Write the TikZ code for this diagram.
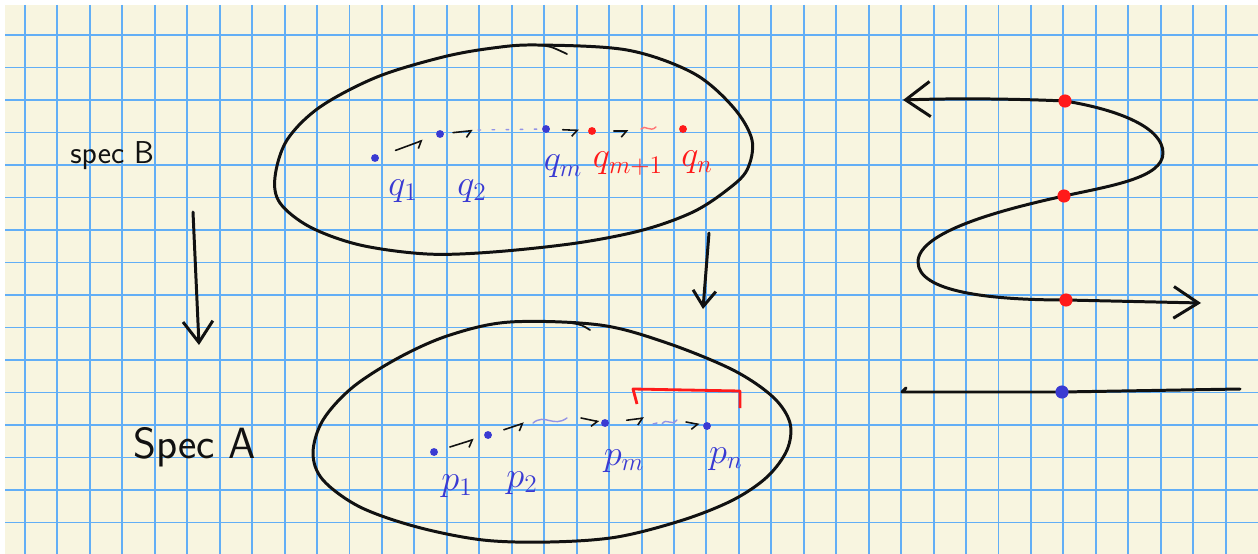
\documentclass[tikz,border=0pt]{standalone}
\definecolor{paperyellow}{HTML}{F8F5E0}
\definecolor{gridblue}{HTML}{62AEF6}
\definecolor{inkblue}{HTML}{3A3AD2}
\definecolor{inkred}{HTML}{FF1A1A}
\definecolor{inkblack}{HTML}{111111}
\usetikzlibrary{arrows.meta}
\tikzset{
    gridline/.style={
        draw=gridblue,
        line width=1.1pt
    },
    sketchline/.style={
        draw=inkblack,
        line width=1.7pt,
        line cap=round,
        line join=round
    },
    sketcharrow/.style={
        sketchline,
        -{Straight Barb[length=12pt,width=17pt]}
    },
    hookarrow/.style={
        draw=inkblack,
        line width=0.9pt,
        line cap=round,
        -{Straight Barb[right,length=3pt,width=7pt]}
    },
    faintblue/.style={
        draw=inkblue!55,
        line width=0.8pt,
        line cap=round
    },
    faintred/.style={
        draw=inkred!60,
        line width=0.8pt,
        line cap=round
    },
    seqdot/.style={
        circle,
        fill=inkblue,
        inner sep=0pt,
        minimum size=4.5pt
    },
    seqreddot/.style={
        seqdot,
        fill=inkred
    },
    curvedot/.style={
        circle,
        fill=inkred,
        inner sep=0pt,
        minimum size=7.5pt
    },
    seqlabel/.style={
        anchor=base,
        inner sep=0pt,
        text=inkblue,
        font=\huge
    },
    spectext/.style={
        anchor=base west,
        inner sep=0pt,
        text=inkblack
    }
}

\begin{document}
\begin{tikzpicture}[x=0.02cm,y=-0.02cm]
    \useasboundingbox (0,0) rectangle (1258,554);
    % paper and grid
    \fill[white] (0,0) rectangle (1258,554);
    \fill[paperyellow] (5,5) rectangle (1258,554);
    \foreach \gx in {0,...,37}
        \draw[gridline] ({25+32.45*\gx},5) -- ({25+32.45*\gx},554);
    \foreach \gy in {0,...,15}
        \draw[gridline] (5,{35+32.5*\gy}) -- (1258,{35+32.5*\gy});

    % the two specs
    \node[spectext,font=\sffamily\fontsize{18}{20}\selectfont] (specB) at (70,163) {spec B};
    \node[spectext,font=\sffamily\Huge] (specA) at (133,458) {Spec A};
    \coordinate (specTop) at (193,212);
    \coordinate (specTip) at (199,345);
    \draw[sketcharrow] (specTop) -- (specTip);

    % upper blob
    \draw[sketchline] plot[smooth cycle,tension=0.55] coordinates {
        (537,45) (627,50) (693,73) (733,107) (752,140) (747,170) (727,190)
        (693,212) (643,230) (577,243) (493,252) (427,254) (360,245)
        (310,227) (280,203) (275,177) (287,140) (320,107) (377,77)
        (443,57) (493,48)};
    \draw[sketchline,line width=1pt] (537,45) .. controls (550,46) .. (567,54);

    \node[seqdot] (q1) at (375,158) {};
    \node[seqdot] (q2) at (440,134) {};
    \node[seqdot] (qm) at (546,129) {};
    \node[seqreddot] (qmone) at (592,131) {};
    \node[seqreddot] (qn) at (683,129) {};
    \coordinate (qgap) at (478,130);
    \coordinate (qgapr) at (630,131);

    \draw[hookarrow,shorten <=10pt,shorten >=8pt] (q1) -- (q2);
    \draw[hookarrow,shorten <=5pt,shorten >=3pt] (q2) -- (qgap);
    \draw[faintblue,dash pattern=on 1.5pt off 6.5pt] (qgap) -- (qm);
    \draw[hookarrow,shorten <=7pt,shorten >=5pt] (qm) -- (qmone);
    \draw[hookarrow,shorten <=10pt,shorten >=1pt] (qmone) -- (qgapr);
    \draw[faintred] (641,129) .. controls (645,124) and (650,133) .. (656,127);

    \node[seqlabel] (lq1) at (403,195) {$q_1$};
    \node[seqlabel] (lq2) at (472,195) {$q_2$};
    \node[seqlabel] (lqm) at (563,171) {$q_m$};
    \node[seqlabel,text=inkred] (lqmone) at (628,168) {$q_{m+1}$};
    \node[seqlabel,text=inkred] (lqn) at (697,167) {$q_n$};

    % arrow between the blobs
    \coordinate (midTop) at (709,233);
    \coordinate (midTip) at (703,309);
    \draw[sketcharrow,-{Straight Barb[length=9pt,width=13pt]}] (midTop) -- (midTip);

    % lower blob
    \draw[sketchline] plot[smooth cycle,tension=0.55] coordinates {
        (510,322) (600,325) (667,343) (733,370) (773,397) (790,423)
        (787,450) (767,477) (733,500) (683,520) (617,537) (550,542)
        (483,540) (417,527) (360,507) (323,480) (313,453) (323,420)
        (353,387) (400,357) (450,335)};
    \draw[sketchline,line width=1pt] (572,323) .. controls (582,325) .. (590,330);

    \node[seqdot] (p1) at (434,452) {};
    \node[seqdot] (p2) at (488,435) {};
    \node[seqdot] (pm) at (605,423) {};
    \node[seqdot] (pn) at (707,426) {};
    \coordinate (pgapA) at (524,423);
    \coordinate (pgapB) at (581,418);
    \coordinate (pgapC) at (644,418);
    \coordinate (pgapD) at (686,422);

    \draw[hookarrow,shorten <=7pt,shorten >=6pt] (p1) -- (p2);
    \draw[hookarrow,shorten <=7pt] (p2) -- (pgapA);
    \draw[faintblue] (533,423) .. controls (545,413) and (553,428) .. (567,418);
    \draw[hookarrow,shorten >=1pt] (pgapB) -- (pm);
    \draw[hookarrow,shorten <=10pt] (pm) -- (pgapC);
    \draw[faintblue] (653,424) -- (657,423);
    \draw[faintblue] (662,424) .. controls (667,417) and (671,427) .. (677,420);
    \draw[hookarrow,shorten >=2pt] (pgapD) -- (pn);
    \draw[draw=inkred,line width=1.6pt,line join=round]
        (637,404) -- (633,389) -- (740,391) -- (740,408);

    \node[seqlabel] (lp1) at (457,490) {$p_1$};
    \node[seqlabel] (lp2) at (522,487) {$p_2$};
    \node[seqlabel] (lpm) at (624,465) {$p_m$};
    \node[seqlabel] (lpn) at (726,463) {$p_n$};

    % the folded line and the straight line
    \coordinate (waveL) at (903,100);
    \coordinate (r1) at (1065,101);
    \coordinate (r2) at (1064,196);
    \coordinate (r3) at (1066,300);
    \coordinate (waveR) at (1201,303);
    \coordinate (lineL) at (902,392);
    \coordinate (b1) at (1062,392);
    \coordinate (lineR) at (1240,389);

    \draw[sketchline,{Straight Barb[length=14pt,width=20pt]}-{Straight Barb[length=14pt,width=18pt]}]
        (waveL) .. controls (960,98) and (1020,99) .. (r1)
        .. controls (1120,110) and (1163,128) .. (1163,153)
        .. controls (1163,178) and (1110,186) .. (r2)
        .. controls (1000,210) and (918,232) .. (918,262)
        .. controls (918,292) and (990,300) .. (r3) -- (waveR);
    \draw[sketchline] (906,388) -- (lineL) -- (b1) -- (lineR);

    \node[curvedot] (r1dot) at (r1) {};
    \node[curvedot] (r2dot) at (r2) {};
    \node[curvedot] (r3dot) at (r3) {};
    \node[curvedot,fill=inkblue] (b1dot) at (b1) {};
\end{tikzpicture}
\end{document}
